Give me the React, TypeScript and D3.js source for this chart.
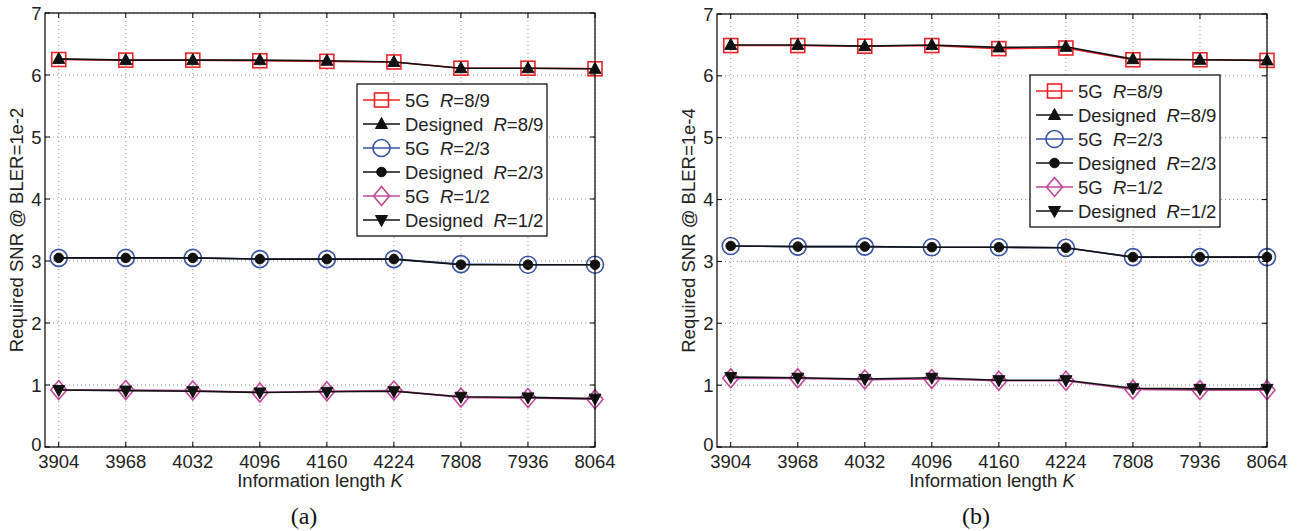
import React from "react";
import * as d3 from "d3";

const categories = ["3904", "3968", "4032", "4096", "4160", "4224", "7808", "7936", "8064"];
const yTicks = [0, 1, 2, 3, 4, 5, 6, 7];

// Panel (a): BLER = 1e-2
const a5G89 = [6.25, 6.24, 6.24, 6.23, 6.22, 6.21, 6.11, 6.11, 6.10];
const aDes89 = [6.26, 6.24, 6.24, 6.24, 6.23, 6.21, 6.11, 6.11, 6.10];
const a5G23 = [3.05, 3.05, 3.05, 3.03, 3.03, 3.03, 2.95, 2.94, 2.94];
const aDes23 = [3.05, 3.05, 3.05, 3.03, 3.03, 3.03, 2.94, 2.94, 2.94];
const a5G12 = [0.92, 0.92, 0.91, 0.88, 0.90, 0.91, 0.80, 0.79, 0.77];
const aDes12 = [0.92, 0.91, 0.90, 0.88, 0.89, 0.90, 0.81, 0.80, 0.78];

// Panel (b): BLER = 1e-4
const b5G89 = [6.49, 6.49, 6.48, 6.49, 6.44, 6.45, 6.26, 6.26, 6.25];
const bDes89 = [6.50, 6.50, 6.48, 6.50, 6.46, 6.47, 6.27, 6.26, 6.25];
const b5G23 = [3.25, 3.24, 3.24, 3.23, 3.23, 3.22, 3.07, 3.07, 3.07];
const bDes23 = [3.25, 3.24, 3.24, 3.23, 3.23, 3.22, 3.07, 3.07, 3.07];
const b5G12 = [1.11, 1.11, 1.09, 1.10, 1.07, 1.07, 0.93, 0.92, 0.92];
const bDes12 = [1.13, 1.12, 1.10, 1.12, 1.08, 1.08, 0.95, 0.94, 0.94];

const legendLabels = [
  ["5G", "8/9"],
  ["Designed", "8/9"],
  ["5G", "2/3"],
  ["Designed", "2/3"],
  ["5G", "1/2"],
  ["Designed", "1/2"],
];

const RED = "#ec2227";
const BLUE = "#3953a4";
const MAG = "#c1489c";
const BLACK = "#111";

type MarkerKind = "square" | "triUp" | "circle" | "dot" | "diamond" | "triDown";
const styles: { color: string; marker: MarkerKind }[] = [
  { color: RED, marker: "square" },
  { color: BLACK, marker: "triUp" },
  { color: BLUE, marker: "circle" },
  { color: BLACK, marker: "dot" },
  { color: MAG, marker: "diamond" },
  { color: BLACK, marker: "triDown" },
];

const FONT = "'Liberation Sans', Arial, Helvetica, sans-serif";
const FS = 18.5;

function Marker({ kind, x, y, color }: { kind: MarkerKind; x: number; y: number; color: string }) {
  switch (kind) {
    case "square":
      return <rect x={x - 7} y={y - 7} width={14} height={14} fill="none" stroke={color} strokeWidth={1.6} />;
    case "circle":
      return <circle cx={x} cy={y} r={8.5} fill="none" stroke={color} strokeWidth={1.6} />;
    case "diamond":
      return (
        <path d={`M${x},${y - 9.5}L${x + 8},${y}L${x},${y + 9.5}L${x - 8},${y}Z`} fill="none" stroke={color} strokeWidth={1.6} />
      );
    case "dot":
      return <circle cx={x} cy={y} r={4.8} fill={color} stroke={color} />;
    case "triUp":
      return <path d={`M${x},${y - 6.5}L${x + 6},${y + 4.5}L${x - 6},${y + 4.5}Z`} fill={color} stroke={color} />;
    case "triDown":
      return <path d={`M${x},${y + 6.5}L${x + 6},${y - 4.5}L${x - 6},${y - 4.5}Z`} fill={color} stroke={color} />;
  }
}

function Panel({
  left,
  top,
  right,
  bottom,
  series,
  ylabel,
  caption,
  legendBox,
}: {
  left: number;
  top: number;
  right: number;
  bottom: number;
  series: number[][];
  ylabel: string;
  caption: string;
  legendBox: { x: number; y: number; w: number; h: number };
}) {
  const x = d3.scaleLinear().domain([-0.205, categories.length - 1]).range([left, right]);
  const y = d3.scaleLinear().domain([0, 7]).range([bottom, top]);
  const line = d3
    .line<number>()
    .x((_, i) => x(i))
    .y((d) => y(d));
  const tickLen = 5;
  const cx = (left + right) / 2;
  const cy = (top + bottom) / 2;
  const rowH = (legendBox.h - 8) / legendLabels.length;
  return (
    <g>
      {/* grid */}
      {categories.map((_, i) => (
        <line key={"gx" + i} x1={x(i)} x2={x(i)} y1={top} y2={bottom} stroke="#999" strokeWidth={1} strokeDasharray="1,3" />
      ))}
      {yTicks.map((t) => (
        <line key={"gy" + t} x1={left} x2={right} y1={y(t)} y2={y(t)} stroke="#999" strokeWidth={1} strokeDasharray="1,3" />
      ))}
      {/* ticks */}
      {categories.map((_, i) => (
        <g key={"tx" + i}>
          <line x1={x(i)} x2={x(i)} y1={bottom} y2={bottom - tickLen} stroke="#000" />
          <line x1={x(i)} x2={x(i)} y1={top} y2={top + tickLen} stroke="#000" />
        </g>
      ))}
      {yTicks.map((t) => (
        <g key={"ty" + t}>
          <line x1={left} x2={left + tickLen} y1={y(t)} y2={y(t)} stroke="#000" />
          <line x1={right} x2={right - tickLen} y1={y(t)} y2={y(t)} stroke="#000" />
        </g>
      ))}
      {/* series */}
      {series.map((s, si) => (
        <g key={"s" + si}>
          <path d={line(s) || ""} fill="none" stroke={styles[si].color} strokeWidth={1.6} />
          {s.map((v, i) => (
            <Marker key={i} kind={styles[si].marker} x={x(i)} y={y(v)} color={styles[si].color} />
          ))}
        </g>
      ))}
      {/* axes box */}
      <rect x={left} y={top} width={right - left} height={bottom - top} fill="none" stroke="#000" strokeWidth={1.2} />
      {/* tick labels */}
      {categories.map((c, i) => (
        <text key={"lx" + i} x={x(i)} y={bottom + 21} textAnchor="middle" fontSize={FS} fontFamily={FONT} fill="#222">
          {c}
        </text>
      ))}
      {yTicks.map((t) => (
        <text key={"ly" + t} x={left - 3.5} y={y(t) + (t === 0 ? 4 : 6.5)} textAnchor="end" fontSize={FS} fontFamily={FONT} fill="#222">
          {t}
        </text>
      ))}
      {/* axis labels */}
      <text x={cx} y={bottom + 40} textAnchor="middle" fontSize={FS} fontFamily={FONT} fill="#222">
        Information length <tspan fontStyle="italic">K</tspan>
      </text>
      <text
        transform={`translate(${left - 22.5},${cy}) rotate(-90)`}
        textAnchor="middle"
        fontSize={FS}
        fontFamily={FONT}
        fill="#222"
      >
        {ylabel}
      </text>
      <text x={cx - 16} y={bottom + 77} textAnchor="middle" fontSize={24} fontFamily="'Liberation Serif', 'Times New Roman', serif" fill="#111">
        {caption}
      </text>
      {/* legend */}
      <rect x={legendBox.x} y={legendBox.y} width={legendBox.w} height={legendBox.h} fill="#fff" stroke="#000" strokeWidth={1.2} />
      {legendLabels.map((lab, i) => {
        const ry = legendBox.y + 4 + rowH * (i + 0.5);
        const lx1 = legendBox.x + 6;
        const lx2 = legendBox.x + 43;
        const st = styles[i];
        return (
          <g key={"lg" + i}>
            <line x1={lx1} x2={lx2} y1={ry} y2={ry} stroke={st.color} strokeWidth={1.6} />
            <Marker kind={st.marker} x={(lx1 + lx2) / 2} y={ry} color={st.color} />
            <text x={legendBox.x + 48} y={ry + 6.5} fontSize={FS} fontFamily={FONT} fill="#222" xmlSpace="preserve">
              {lab[0]}
              {"  "}
              <tspan fontStyle="italic">R</tspan>={lab[1]}
            </text>
          </g>
        );
      })}
    </g>
  );
}

export default function App() {
  return (
    <svg width={1299} height={531} style={{ position: "absolute", left: 0, top: 0, background: "#fff" }}>
      <rect width={1299} height={531} fill="#fff" />
      <Panel
        left={45}
        top={13}
        right={595}
        bottom={447}
        series={[a5G89, aDes89, a5G23, aDes23, a5G12, aDes12]}
        ylabel="Required SNR @ BLER=1e-2"
        caption="(a)"
        legendBox={{ x: 357, y: 84, w: 190, h: 152 }}
      />
      <Panel
        left={717}
        top={14}
        right={1267}
        bottom={447}
        series={[b5G89, bDes89, b5G23, bDes23, b5G12, bDes12]}
        ylabel="Required SNR @ BLER=1e-4"
        caption="(b)"
        legendBox={{ x: 1030, y: 75, w: 190, h: 152 }}
      />
    </svg>
  );
}
